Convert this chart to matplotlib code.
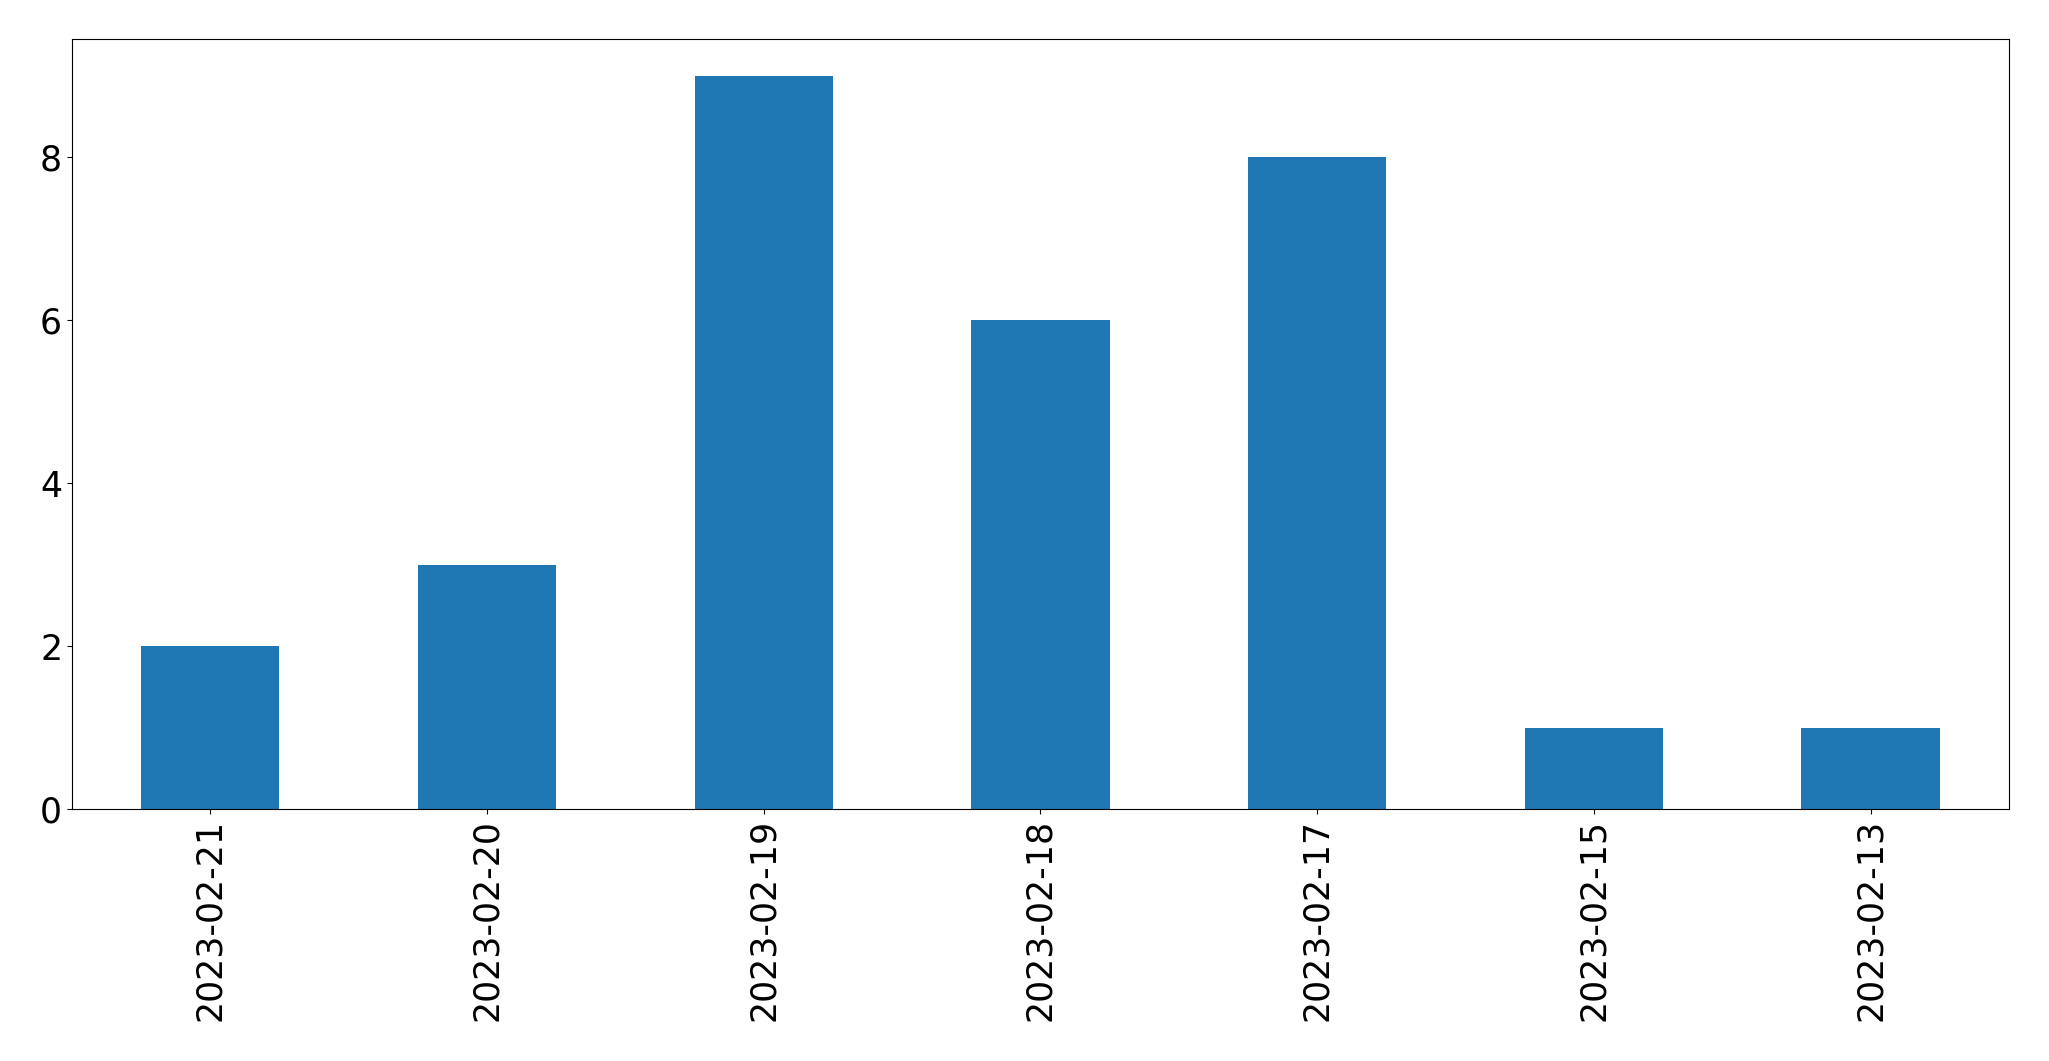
import matplotlib
matplotlib.use("Agg")
import matplotlib.pyplot as plt
import pandas as pd

dates = ["2023-02-21", "2023-02-20", "2023-02-19", "2023-02-18",
         "2023-02-17", "2023-02-15", "2023-02-13"]
counts = [2, 3, 9, 6, 8, 1, 1]

series = pd.Series(counts, index=dates)

fig = plt.figure(figsize=(20.49, 10.61), dpi=100)
ax = fig.add_axes([0.0351, 0.2375, 0.9454, 0.7255])
series.plot(kind="bar", ax=ax, color="#1f77b4")
ax.tick_params(axis="both", labelsize=25)
ax.set_yticks([0, 2, 4, 6, 8])

fig.savefig("out.png", dpi=100)
